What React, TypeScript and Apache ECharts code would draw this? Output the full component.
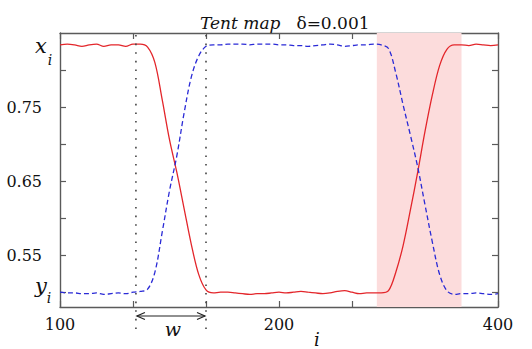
import React, { useEffect, useRef } from "react";
import * as echarts from "echarts";

const iValues = [
  100, 105, 110, 115, 120, 125, 130, 135, 140, 145,
  150, 155, 160, 165, 170, 175, 180, 185, 190, 195,
  200, 205, 210, 215, 220, 225, 230, 235, 240, 245,
  250, 255, 260, 265, 270, 275, 280, 285, 290, 295,
  300, 305, 310, 315, 320, 325, 330, 335, 340, 345,
  350, 355, 360, 365, 370, 375, 380, 385, 390, 395,
  400,
];

const xSeriesValues = [
  0.834, 0.835, 0.834, 0.832, 0.834, 0.835, 0.832, 0.834, 0.834, 0.832,
  0.835, 0.835, 0.831, 0.81, 0.76, 0.706, 0.662, 0.613, 0.564, 0.524,
  0.503, 0.499, 0.5, 0.5, 0.499, 0.498, 0.497, 0.498, 0.498, 0.499,
  0.5, 0.499, 0.5, 0.501, 0.5, 0.499, 0.498, 0.499, 0.501, 0.502,
  0.5, 0.498, 0.499, 0.499, 0.499, 0.502, 0.527, 0.563, 0.611, 0.662,
  0.717, 0.766, 0.806, 0.828, 0.834, 0.834, 0.833, 0.835, 0.834, 0.833,
  0.834,
];

const ySeriesValues = [
  0.5, 0.499, 0.499, 0.498, 0.498, 0.499, 0.497, 0.498, 0.499, 0.498,
  0.5, 0.501, 0.504, 0.527, 0.581, 0.637, 0.684, 0.742, 0.791, 0.819,
  0.832, 0.834, 0.834, 0.835, 0.835, 0.835, 0.834, 0.835, 0.835, 0.835,
  0.834, 0.834, 0.833, 0.833, 0.832, 0.833, 0.834, 0.835, 0.834, 0.832,
  0.833, 0.834, 0.834, 0.835, 0.834, 0.829, 0.796, 0.753, 0.712, 0.669,
  0.618, 0.568, 0.524, 0.502, 0.497, 0.498, 0.498, 0.499, 0.498, 0.497,
  0.498,
];

const yTickValues = [0.5, 0.55, 0.6, 0.65, 0.7, 0.75, 0.8];
const yLabelValues = [0.55, 0.65, 0.75];
const xLabelValues = [100, 250, 400];
const xLabelTexts = ["100", "200", "400"];
const windowEdges = [152, 200];
const shadedRange = [317, 375];
const xLevel = 0.834;
const yLevel = 0.5;

const SERIF = "DejaVu Serif, Liberation Serif, Times New Roman, serif";
const AXIS_COLOR = "#5a5a5a";

export default function App() {
  const ref = useRef<HTMLDivElement>(null);

  useEffect(() => {
    if (!ref.current) return;
    const chart = echarts.init(ref.current, undefined, { renderer: "svg" });

    const xData = iValues.map((v, k) => [v, xSeriesValues[k]]);
    const yData = iValues.map((v, k) => [v, ySeriesValues[k]]);

    const axisLine = { show: true, lineStyle: { color: AXIS_COLOR, width: 1.4 } };

    chart.setOption({
      animation: false,
      textStyle: { fontFamily: SERIF },
      title: {
        text: "{a|Tent map}{b|δ=0.001}",
        left: 195,
        top: 9,
        textStyle: {
          fontFamily: SERIF,
          fontWeight: "normal",
          fontSize: 17,
          rich: {
            a: { fontFamily: SERIF, fontStyle: "italic", fontWeight: "normal", fontSize: 17, color: "#111", padding: [0, 16, 0, 0] },
            b: { fontFamily: SERIF, fontWeight: "normal", fontSize: 17, color: "#111" },
          },
        },
      },
      grid: { left: 60, right: 34, top: 33, bottom: 42, containLabel: false },
      xAxis: [
        {
          type: "value",
          min: 100,
          max: 400,
          interval: 50,
          position: "bottom",
          axisLine,
          splitLine: { show: false },
          axisTick: { show: true, inside: true, length: 6, lineStyle: { color: AXIS_COLOR, width: 1.2 } },
          axisLabel: {
            margin: 9,
            fontFamily: SERIF,
            fontSize: 16,
            color: "#111",
            showMinLabel: true,
            showMaxLabel: true,
            formatter: (v: number) => {
              const k = xLabelValues.indexOf(v);
              return k >= 0 ? xLabelTexts[k] : "";
            },
          },
        },
        {
          type: "value",
          min: 100,
          max: 400,
          interval: 50,
          position: "top",
          axisLine,
          splitLine: { show: false },
          axisTick: { show: true, inside: true, length: 6, lineStyle: { color: AXIS_COLOR, width: 1.2 } },
          axisLabel: { show: false },
        },
      ],
      yAxis: [
        {
          type: "value",
          min: 0.48,
          max: 0.85,
          position: "left",
          axisLine,
          splitLine: { show: false },
          axisTick: {
            show: true,
            inside: true,
            length: 6,
            customValues: yTickValues,
            lineStyle: { color: AXIS_COLOR, width: 1.2 },
          },
          axisLabel: {
            margin: 18,
            fontFamily: SERIF,
            fontSize: 16,
            color: "#111",
            customValues: yLabelValues,
            formatter: (v: number) => v.toFixed(2),
          },
        },
        {
          type: "value",
          min: 0.48,
          max: 0.85,
          position: "right",
          axisLine,
          splitLine: { show: false },
          axisTick: {
            show: true,
            inside: true,
            length: 6,
            customValues: yTickValues,
            lineStyle: { color: AXIS_COLOR, width: 1.2 },
          },
          axisLabel: { show: false },
        },
      ],
      series: [
        {
          name: "x",
          type: "line",
          data: xData,
          showSymbol: false,
          smooth: 0.35,
          lineStyle: { color: "#e3262b", width: 1.3 },
          z: 3,
          markArea: {
            silent: true,
            itemStyle: { color: "#fcdcdc" },
            data: [[{ xAxis: shadedRange[0] }, { xAxis: shadedRange[1] }]],
          },
        },
        {
          name: "y",
          type: "line",
          data: yData,
          showSymbol: false,
          smooth: 0.35,
          lineStyle: { color: "#2a2ad6", width: 1.3, type: [5, 3] },
          z: 4,
        },
      ],
    });

    const px = (v: number) => chart.convertToPixel({ xAxisIndex: 0 }, v) as number;
    const py = (v: number) => chart.convertToPixel({ yAxisIndex: 0 }, v) as number;
    const plotTop = py(0.85);
    const plotBottom = py(0.48);
    const xa = px(windowEdges[0]);
    const xb = px(windowEdges[1]);
    const arrowY = plotBottom + 9;
    const leftX = px(100);

    const dotted = { stroke: "#444", lineWidth: 1.6, lineDash: [1.6, 7] };
    const arrowStyle = { stroke: "#222", lineWidth: 1.2, fill: "none" };
    const txt = (text: string, size: number) => ({
      text,
      fontFamily: SERIF,
      fontStyle: "italic",
      fontSize: size,
      fill: "#111",
      align: "center",
      verticalAlign: "middle",
    });

    chart.setOption({
      graphic: [
        { type: "line", shape: { x1: xa, y1: plotTop + 2, x2: xa, y2: plotBottom + 22 }, style: dotted, silent: true, z: 10 },
        { type: "line", shape: { x1: xb, y1: plotTop + 2, x2: xb, y2: plotBottom + 22 }, style: dotted, silent: true, z: 10 },
        { type: "line", shape: { x1: xa + 1, y1: arrowY, x2: xb - 1, y2: arrowY }, style: arrowStyle, silent: true },
        { type: "polyline", shape: { points: [[xa + 9, arrowY - 3.5], [xa + 1, arrowY], [xa + 9, arrowY + 3.5]] }, style: arrowStyle, silent: true },
        { type: "polyline", shape: { points: [[xb - 9, arrowY - 3.5], [xb - 1, arrowY], [xb - 9, arrowY + 3.5]] }, style: arrowStyle, silent: true },
        { type: "text", x: (xa + xb) / 2 + 2, y: arrowY + 13, style: txt("w", 19) },
        { type: "text", x: px(276), y: plotBottom + 32, style: txt("i", 18) },
        { type: "text", x: leftX - 19, y: py(xLevel) + 1, style: txt("x", 21) },
        { type: "text", x: leftX - 10, y: py(xLevel) + 15, style: txt("i", 14) },
        { type: "text", x: leftX - 19, y: py(yLevel) - 6, style: txt("y", 21) },
        { type: "text", x: leftX - 11, y: py(yLevel) + 6, style: txt("i", 14) },
      ],
    });

    return () => chart.dispose();
  }, []);

  return (
    <div
      ref={ref}
      style={{ position: "fixed", left: 0, top: 0, width: 532, height: 349, background: "#fff" }}
    />
  );
}
